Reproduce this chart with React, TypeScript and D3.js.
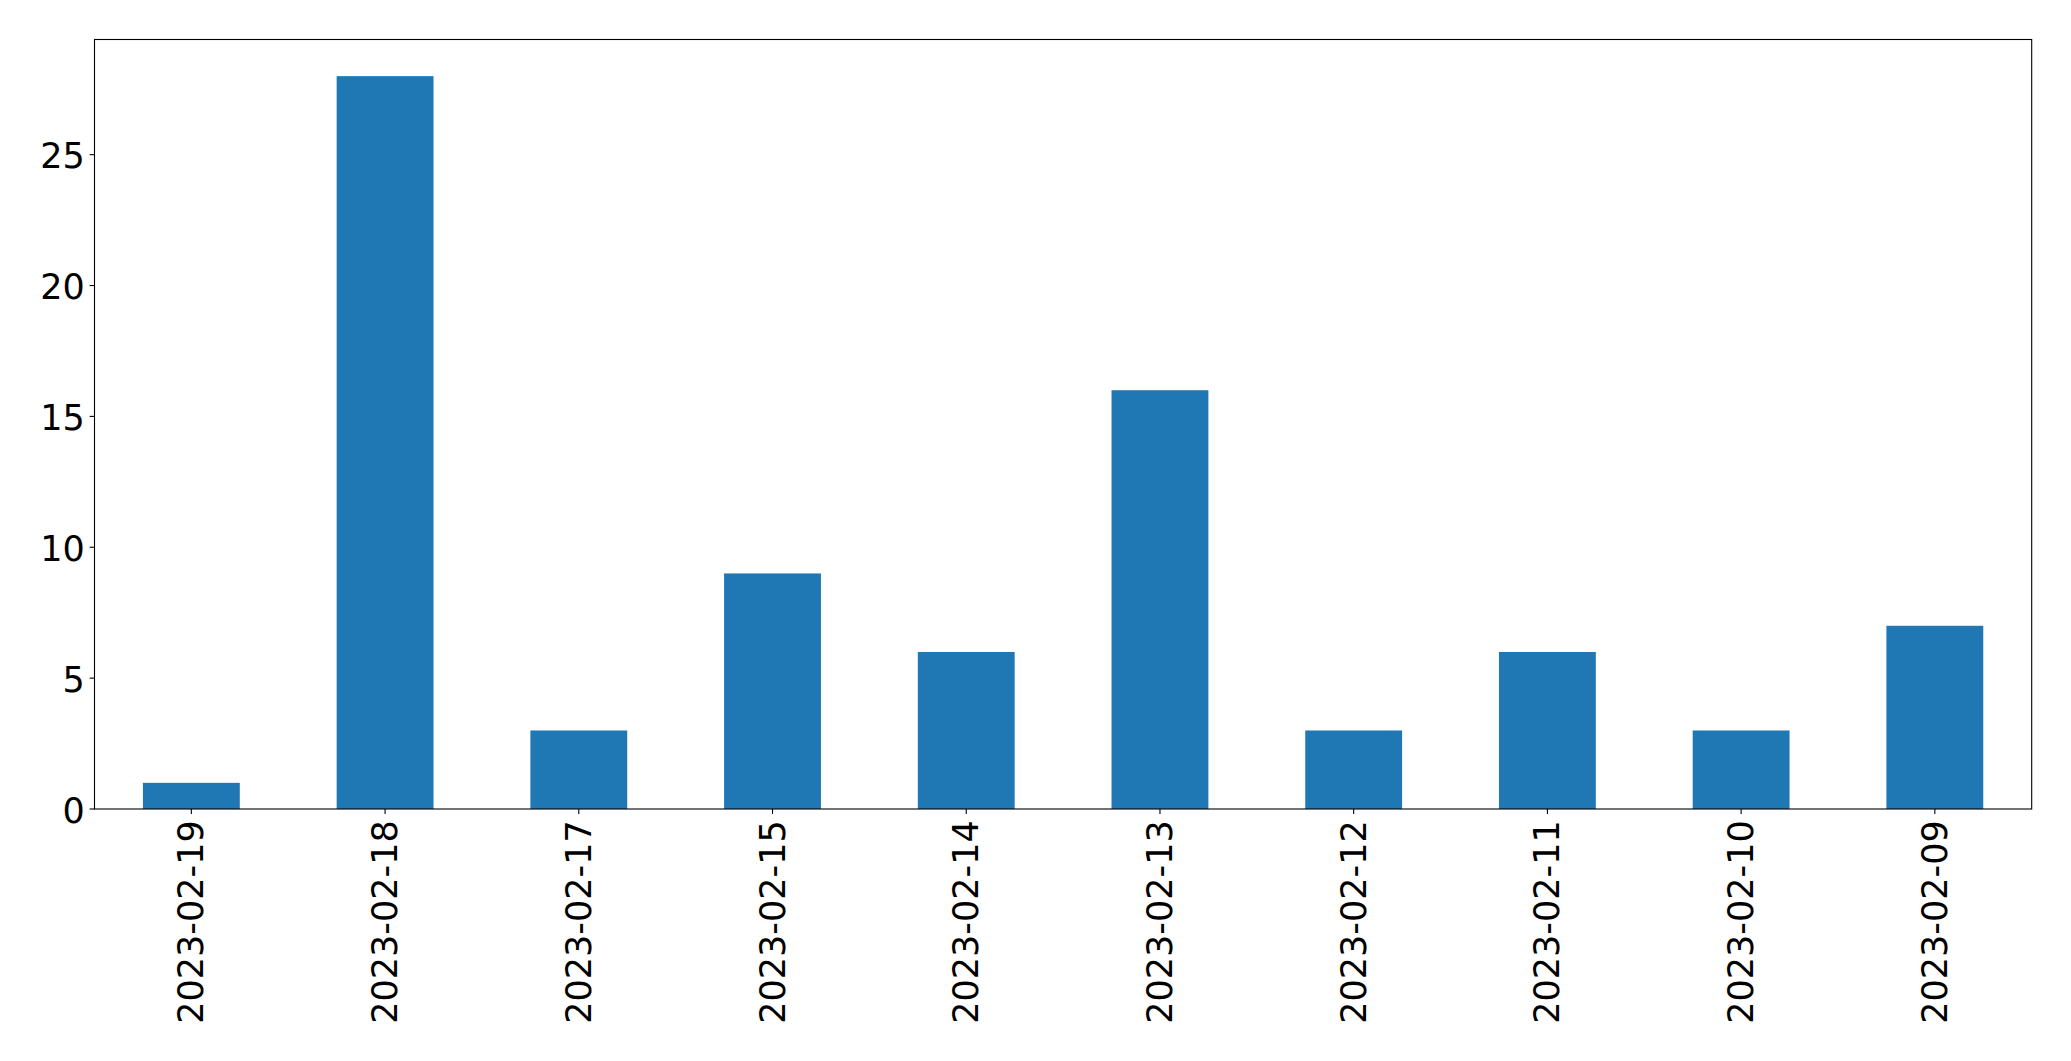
import { useEffect, useRef } from 'react'
import * as d3 from 'd3'

const dates = [
  '2023-02-19',
  '2023-02-18',
  '2023-02-17',
  '2023-02-15',
  '2023-02-14',
  '2023-02-13',
  '2023-02-12',
  '2023-02-11',
  '2023-02-10',
  '2023-02-09',
]
const counts = [1, 28, 3, 9, 6, 16, 3, 6, 3, 7]
const yTicks = [0, 5, 10, 15, 20, 25]

const WIDTH = 2071
const HEIGHT = 1061
const FONT = '"DejaVu Sans", sans-serif'
const FONT_SIZE = 35

export default function App() {
  const svgRef = useRef<SVGSVGElement>(null)

  useEffect(() => {
    if (!svgRef.current) return
    const svg = d3.select(svgRef.current)
    svg.selectAll('*').remove()

    const margin = { top: 39.5, right: WIDTH - 2031.7, bottom: HEIGHT - 809, left: 94.5 }
    const innerW = WIDTH - margin.left - margin.right
    const innerH = HEIGHT - margin.top - margin.bottom
    const tickLen = 4.9
    const pad = 4.9

    const x = d3.scaleBand<string>().domain(dates).range([0, innerW]).paddingInner(0.5).paddingOuter(0.25)
    const yMax = (d3.max(counts) ?? 0) * 1.05
    const y = d3.scaleLinear().domain([0, yMax]).range([innerH, 0])

    svg.append('rect').attr('width', WIDTH).attr('height', HEIGHT).attr('fill', '#ffffff')

    const g = svg.append('g').attr('transform', `translate(${margin.left},${margin.top})`)

    // bars
    g.selectAll('rect.bar')
      .data(counts)
      .join('rect')
      .attr('class', 'bar')
      .attr('x', (_, i) => x(dates[i]) ?? 0)
      .attr('width', x.bandwidth())
      .attr('y', (d) => y(d))
      .attr('height', (d) => innerH - y(d))
      .attr('fill', '#1f77b4')

    // frame
    g.append('rect')
      .attr('width', innerW)
      .attr('height', innerH)
      .attr('fill', 'none')
      .attr('stroke', '#000')
      .attr('stroke-width', 1.1)

    // y ticks
    const yt = g.selectAll('g.ytick').data(yTicks).join('g').attr('transform', (d) => `translate(0,${y(d)})`)
    yt.append('line').attr('x1', -tickLen).attr('x2', 0).attr('stroke', '#000').attr('stroke-width', 1.1)
    yt.append('text')
      .attr('x', -tickLen - pad)
      .attr('dy', '0.39em')
      .attr('text-anchor', 'end')
      .style('font-family', FONT)
      .style('font-size', `${FONT_SIZE}px`)
      .attr('fill', '#000')
      .text((d) => d)

    // x ticks
    const xt = g
      .selectAll('g.xtick')
      .data(dates)
      .join('g')
      .attr('transform', (d) => `translate(${(x(d) ?? 0) + x.bandwidth() / 2},${innerH})`)
    xt.append('line').attr('y1', 0).attr('y2', tickLen).attr('stroke', '#000').attr('stroke-width', 1.1)
    xt.append('text')
      .attr('transform', `translate(0,${tickLen + pad + 1.5}) rotate(-90)`)
      .attr('dy', '0.345em')
      .attr('text-anchor', 'end')
      .style('font-family', FONT)
      .style('font-size', `${FONT_SIZE}px`)
      .attr('fill', '#000')
      .text((d) => d)
  }, [])

  return (
    <svg
      ref={svgRef}
      width={WIDTH}
      height={HEIGHT}
      style={{ position: 'absolute', left: 0, top: 0, display: 'block' }}
    />
  )
}
